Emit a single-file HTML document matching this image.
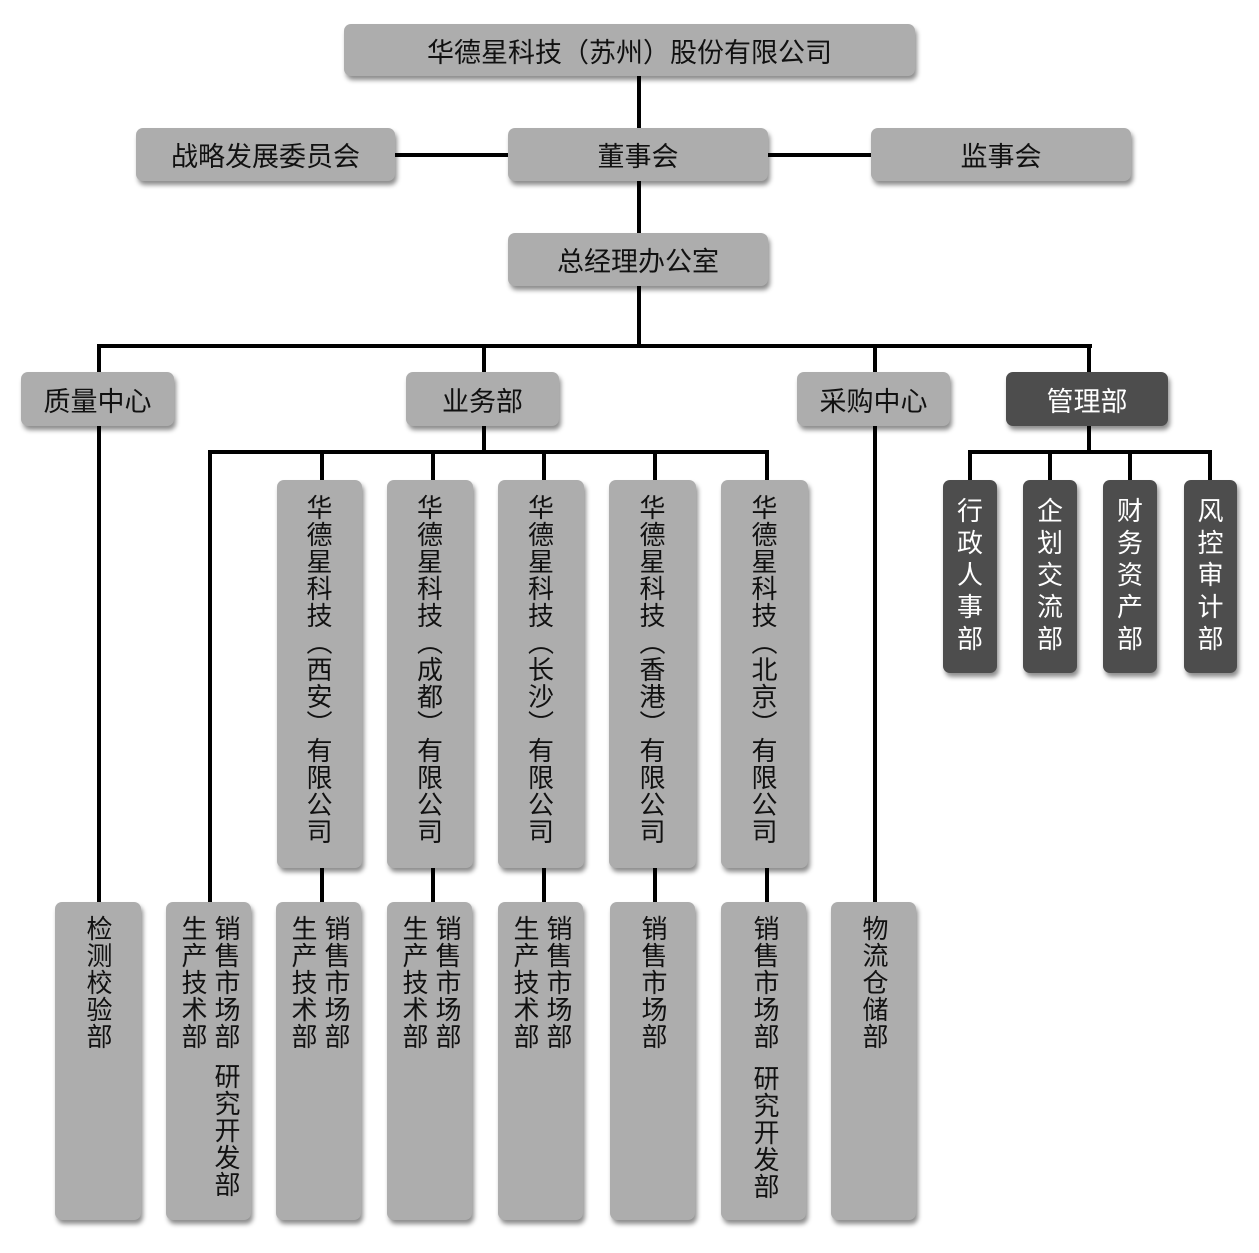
<!DOCTYPE html>
<html><head><meta charset="utf-8"><style>
body{margin:0;width:1259px;height:1253px;background:#fff;position:relative;overflow:hidden;font-family:"Liberation Sans","Noto Sans CJK SC",sans-serif;}
.b{position:absolute;background:#adadad;border-radius:7px;box-shadow:2px 4px 5px rgba(0,0,0,0.45);color:#111;font-size:27px;display:flex;align-items:center;justify-content:center;}
.d{background:#4d4d4d;color:#fff;}
.l{position:absolute;background:#000;}
.v{position:absolute;writing-mode:vertical-rl;text-orientation:upright;font-size:26px;letter-spacing:1px;color:#111;line-height:26px;}
.w{color:#fff;}
</style></head><body>
<div class="l" style="left:637px;top:76px;width:4px;height:270px"></div>
<div class="l" style="left:395px;top:153px;width:113px;height:4px"></div>
<div class="l" style="left:768px;top:153px;width:103px;height:4px"></div>
<div class="l" style="left:97px;top:344px;width:995px;height:4px"></div>
<div class="l" style="left:97px;top:344px;width:4px;height:558px"></div>
<div class="l" style="left:482px;top:344px;width:4px;height:108px"></div>
<div class="l" style="left:873px;top:344px;width:4px;height:558px"></div>
<div class="l" style="left:1087px;top:344px;width:4px;height:108px"></div>
<div class="l" style="left:208px;top:450px;width:561px;height:4px"></div>
<div class="l" style="left:208px;top:450px;width:4px;height:452px"></div>
<div class="l" style="left:320px;top:450px;width:4px;height:452px"></div>
<div class="l" style="left:431px;top:450px;width:4px;height:452px"></div>
<div class="l" style="left:542px;top:450px;width:4px;height:452px"></div>
<div class="l" style="left:653px;top:450px;width:4px;height:452px"></div>
<div class="l" style="left:765px;top:450px;width:4px;height:452px"></div>
<div class="l" style="left:968px;top:450px;width:244px;height:4px"></div>
<div class="l" style="left:968px;top:450px;width:4px;height:30px"></div>
<div class="l" style="left:1048px;top:450px;width:4px;height:30px"></div>
<div class="l" style="left:1128px;top:450px;width:4px;height:30px"></div>
<div class="l" style="left:1208px;top:450px;width:4px;height:30px"></div>
<div class="b" style="left:344px;top:24px;width:571px;height:52px">华德星科技（苏州）股份有限公司</div>
<div class="b" style="left:136px;top:128px;width:259px;height:53px">战略发展委员会</div>
<div class="b" style="left:508px;top:128px;width:260px;height:53px">董事会</div>
<div class="b" style="left:871px;top:128px;width:260px;height:53px">监事会</div>
<div class="b" style="left:508px;top:233px;width:260px;height:53px">总经理办公室</div>
<div class="b" style="left:21px;top:372px;width:153px;height:54px">质量中心</div>
<div class="b" style="left:406px;top:372px;width:153px;height:54px">业务部</div>
<div class="b" style="left:797px;top:372px;width:153px;height:54px">采购中心</div>
<div class="b d" style="left:1006px;top:372px;width:162px;height:54px">管理部</div>
<div class="b" style="left:277px;top:480px;width:85px;height:388px;align-items:flex-start"><div class="v" style="position:static;margin-top:14px;margin-left:-3px">华德星科技（西安）有限公司</div></div>
<div class="b" style="left:387px;top:480px;width:86px;height:388px;align-items:flex-start"><div class="v" style="position:static;margin-top:14px;margin-left:-3px">华德星科技（成都）有限公司</div></div>
<div class="b" style="left:498px;top:480px;width:86px;height:388px;align-items:flex-start"><div class="v" style="position:static;margin-top:14px;margin-left:-3px">华德星科技（长沙）有限公司</div></div>
<div class="b" style="left:609px;top:480px;width:87px;height:388px;align-items:flex-start"><div class="v" style="position:static;margin-top:14px;margin-left:-3px">华德星科技（香港）有限公司</div></div>
<div class="b" style="left:721px;top:480px;width:87px;height:388px;align-items:flex-start"><div class="v" style="position:static;margin-top:14px;margin-left:-3px">华德星科技（北京）有限公司</div></div>
<div class="b d" style="left:943px;top:480px;width:54px;height:193px;align-items:flex-start"><div class="v w" style="position:static;margin-top:17px;letter-spacing:6px;margin-left:-3px">行政人事部</div></div>
<div class="b d" style="left:1023px;top:480px;width:54px;height:193px;align-items:flex-start"><div class="v w" style="position:static;margin-top:17px;letter-spacing:6px;margin-left:-3px">企划交流部</div></div>
<div class="b d" style="left:1103px;top:480px;width:54px;height:193px;align-items:flex-start"><div class="v w" style="position:static;margin-top:17px;letter-spacing:6px;margin-left:-3px">财务资产部</div></div>
<div class="b d" style="left:1184px;top:480px;width:53px;height:193px;align-items:flex-start"><div class="v w" style="position:static;margin-top:17px;letter-spacing:6px;margin-left:-3px">风控审计部</div></div>
<div class="b" style="left:55px;top:902px;width:86px;height:318px"></div>
<div class="b" style="left:166px;top:902px;width:85px;height:318px"></div>
<div class="b" style="left:276px;top:902px;width:85px;height:318px"></div>
<div class="b" style="left:387px;top:902px;width:85px;height:318px"></div>
<div class="b" style="left:498px;top:902px;width:85px;height:318px"></div>
<div class="b" style="left:610px;top:902px;width:85px;height:318px"></div>
<div class="b" style="left:721px;top:902px;width:85px;height:318px"></div>
<div class="b" style="left:831px;top:902px;width:85px;height:318px"></div>
<div class="v" style="left:85px;top:915px">检测校验部</div>
<div class="v" style="left:180px;top:915px">生产技术部</div>
<div class="v" style="left:213px;top:915px">销售市场部</div>
<div class="v" style="left:213px;top:1063px">研究开发部</div>
<div class="v" style="left:290px;top:915px">生产技术部</div>
<div class="v" style="left:323px;top:915px">销售市场部</div>
<div class="v" style="left:401px;top:915px">生产技术部</div>
<div class="v" style="left:434px;top:915px">销售市场部</div>
<div class="v" style="left:512px;top:915px">生产技术部</div>
<div class="v" style="left:545px;top:915px">销售市场部</div>
<div class="v" style="left:640px;top:915px">销售市场部</div>
<div class="v" style="left:752px;top:915px">销售市场部</div>
<div class="v" style="left:752px;top:1065px">研究开发部</div>
<div class="v" style="left:861px;top:915px">物流仓储部</div>
</body></html>
